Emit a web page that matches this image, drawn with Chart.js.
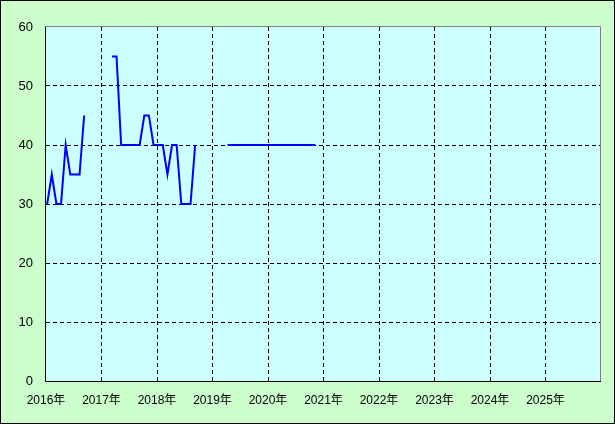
<!DOCTYPE html>
<html>
<head>
<meta charset="utf-8">
<script src="https://cdn.jsdelivr.net/npm/chart.js@4/dist/chart.umd.min.js"></script>
<style>
  html, body { margin: 0; padding: 0; background: #ccffcc; }
  #wrap { width: 615px; height: 424px; position: relative; }
</style>
</head>
<body>
<div id="wrap"><canvas id="chart"></canvas></div>
<script>
  // monthly values, Jan..Dec, null = no data
  const years = [2016, 2017, 2018, 2019, 2020];
  const values2016 = [30, 35, 30, 30, 40, 35, 35, 35, 45, null, null, null];
  const values2017 = [null, null, 55, 55, 40, 40, 40, 40, 40, 45, 45, 40];
  const values2018 = [40, 40, 35, 40, 40, 30, 30, 30, 40, null, null, null];
  const values2019 = [null, null, null, 40, 40, 40, 40, 40, 40, 40, 40, 40];
  const values2020 = [40, 40, 40, 40, 40, 40, 40, 40, 40, 40, 40, null];
  const yearLabels = ['2016年', '2017年', '2018年', '2019年', '2020年', '2021年', '2022年', '2023年', '2024年', '2025年'];
  const yTicks = [0, 10, 20, 30, 40, 50, 60];

  const allValues = [values2016, values2017, values2018, values2019, values2020];
  const points = [];
  years.forEach((yr, i) => {
    allValues[i].forEach((v, m) => {
      points.push({ x: yr + (m + 0.25) / 12, y: v });
    });
  });

  const FONT = "'Liberation Sans', 'Noto Sans CJK JP', sans-serif";

  const bgPlugin = {
    id: 'bg',
    beforeDraw(chart) {
      const { ctx, chartArea: a, width, height } = chart;
      ctx.save();
      ctx.fillStyle = '#ccffcc';
      ctx.fillRect(0, 0, width, height);
      ctx.fillStyle = '#ccffff';
      ctx.fillRect(a.left, a.top, a.right - a.left, a.bottom - a.top);
      ctx.restore();
    },
    afterDatasetsDraw(chart) {
      const { ctx, chartArea: a, width, height } = chart;
      ctx.save();
      ctx.lineWidth = 1;
      ctx.strokeStyle = '#808080';
      ctx.beginPath();
      ctx.moveTo(a.left, a.top - 0.5);
      ctx.lineTo(a.right - 0.5, a.top - 0.5);
      ctx.lineTo(a.right - 0.5, a.bottom);
      ctx.stroke();
      ctx.strokeStyle = '#000000';
      ctx.beginPath();
      ctx.moveTo(a.left - 0.5, a.top - 0.5);
      ctx.lineTo(a.left - 0.5, a.bottom + 0.5);
      ctx.lineTo(a.right, a.bottom + 0.5);
      ctx.stroke();
      ctx.strokeRect(0.5, 0.5, width - 1, height - 1);
      ctx.restore();
    }
  };

  new Chart(document.getElementById('chart'), {
    type: 'line',
    data: {
      datasets: [{
        data: points,
        borderColor: '#0000ff',
        borderWidth: 2,
        pointRadius: 0,
        tension: 0,
        spanGaps: false,
        fill: false
      }]
    },
    options: {
      responsive: true,
      maintainAspectRatio: false,
      animation: false,
      layout: { padding: { top: 27, right: 14, left: 0, bottom: 0 } },
      plugins: { legend: { display: false }, tooltip: { enabled: false } },
      scales: {
        x: {
          type: 'linear',
          min: 2016,
          max: 2026,
          afterFit(s) { s.height = 43; },
          afterBuildTicks(s) {
            s.ticks = [];
            for (let y = 2016; y <= 2026; y++) s.ticks.push({ value: y });
          },
          ticks: {
            color: '#000',
            padding: 12,
            maxRotation: 0,
            autoSkip: false,
            font: { family: FONT, size: 12 },
            callback: v => yearLabels[v - 2016] || ''
          },
          grid: {
            drawTicks: false,
            color: c => (c.tick && (c.tick.value === 2016 || c.tick.value === 2026)) ? 'rgba(0,0,0,0)' : '#000'
          },
          border: { display: false, dash: [4, 3] }
        },
        y: {
          min: 0,
          max: 60,
          afterFit(s) { s.width = 46; },
          afterBuildTicks(s) { s.ticks = yTicks.map(v => ({ value: v })); },
          ticks: {
            color: '#000',
            padding: 13,
            font: { family: FONT, size: 13 }
          },
          grid: {
            drawTicks: false,
            color: c => (c.tick && (c.tick.value === 0 || c.tick.value === 60)) ? 'rgba(0,0,0,0)' : '#000'
          },
          border: { display: false, dash: [4, 3] }
        }
      }
    },
    plugins: [bgPlugin]
  });
</script>
</body>
</html>
